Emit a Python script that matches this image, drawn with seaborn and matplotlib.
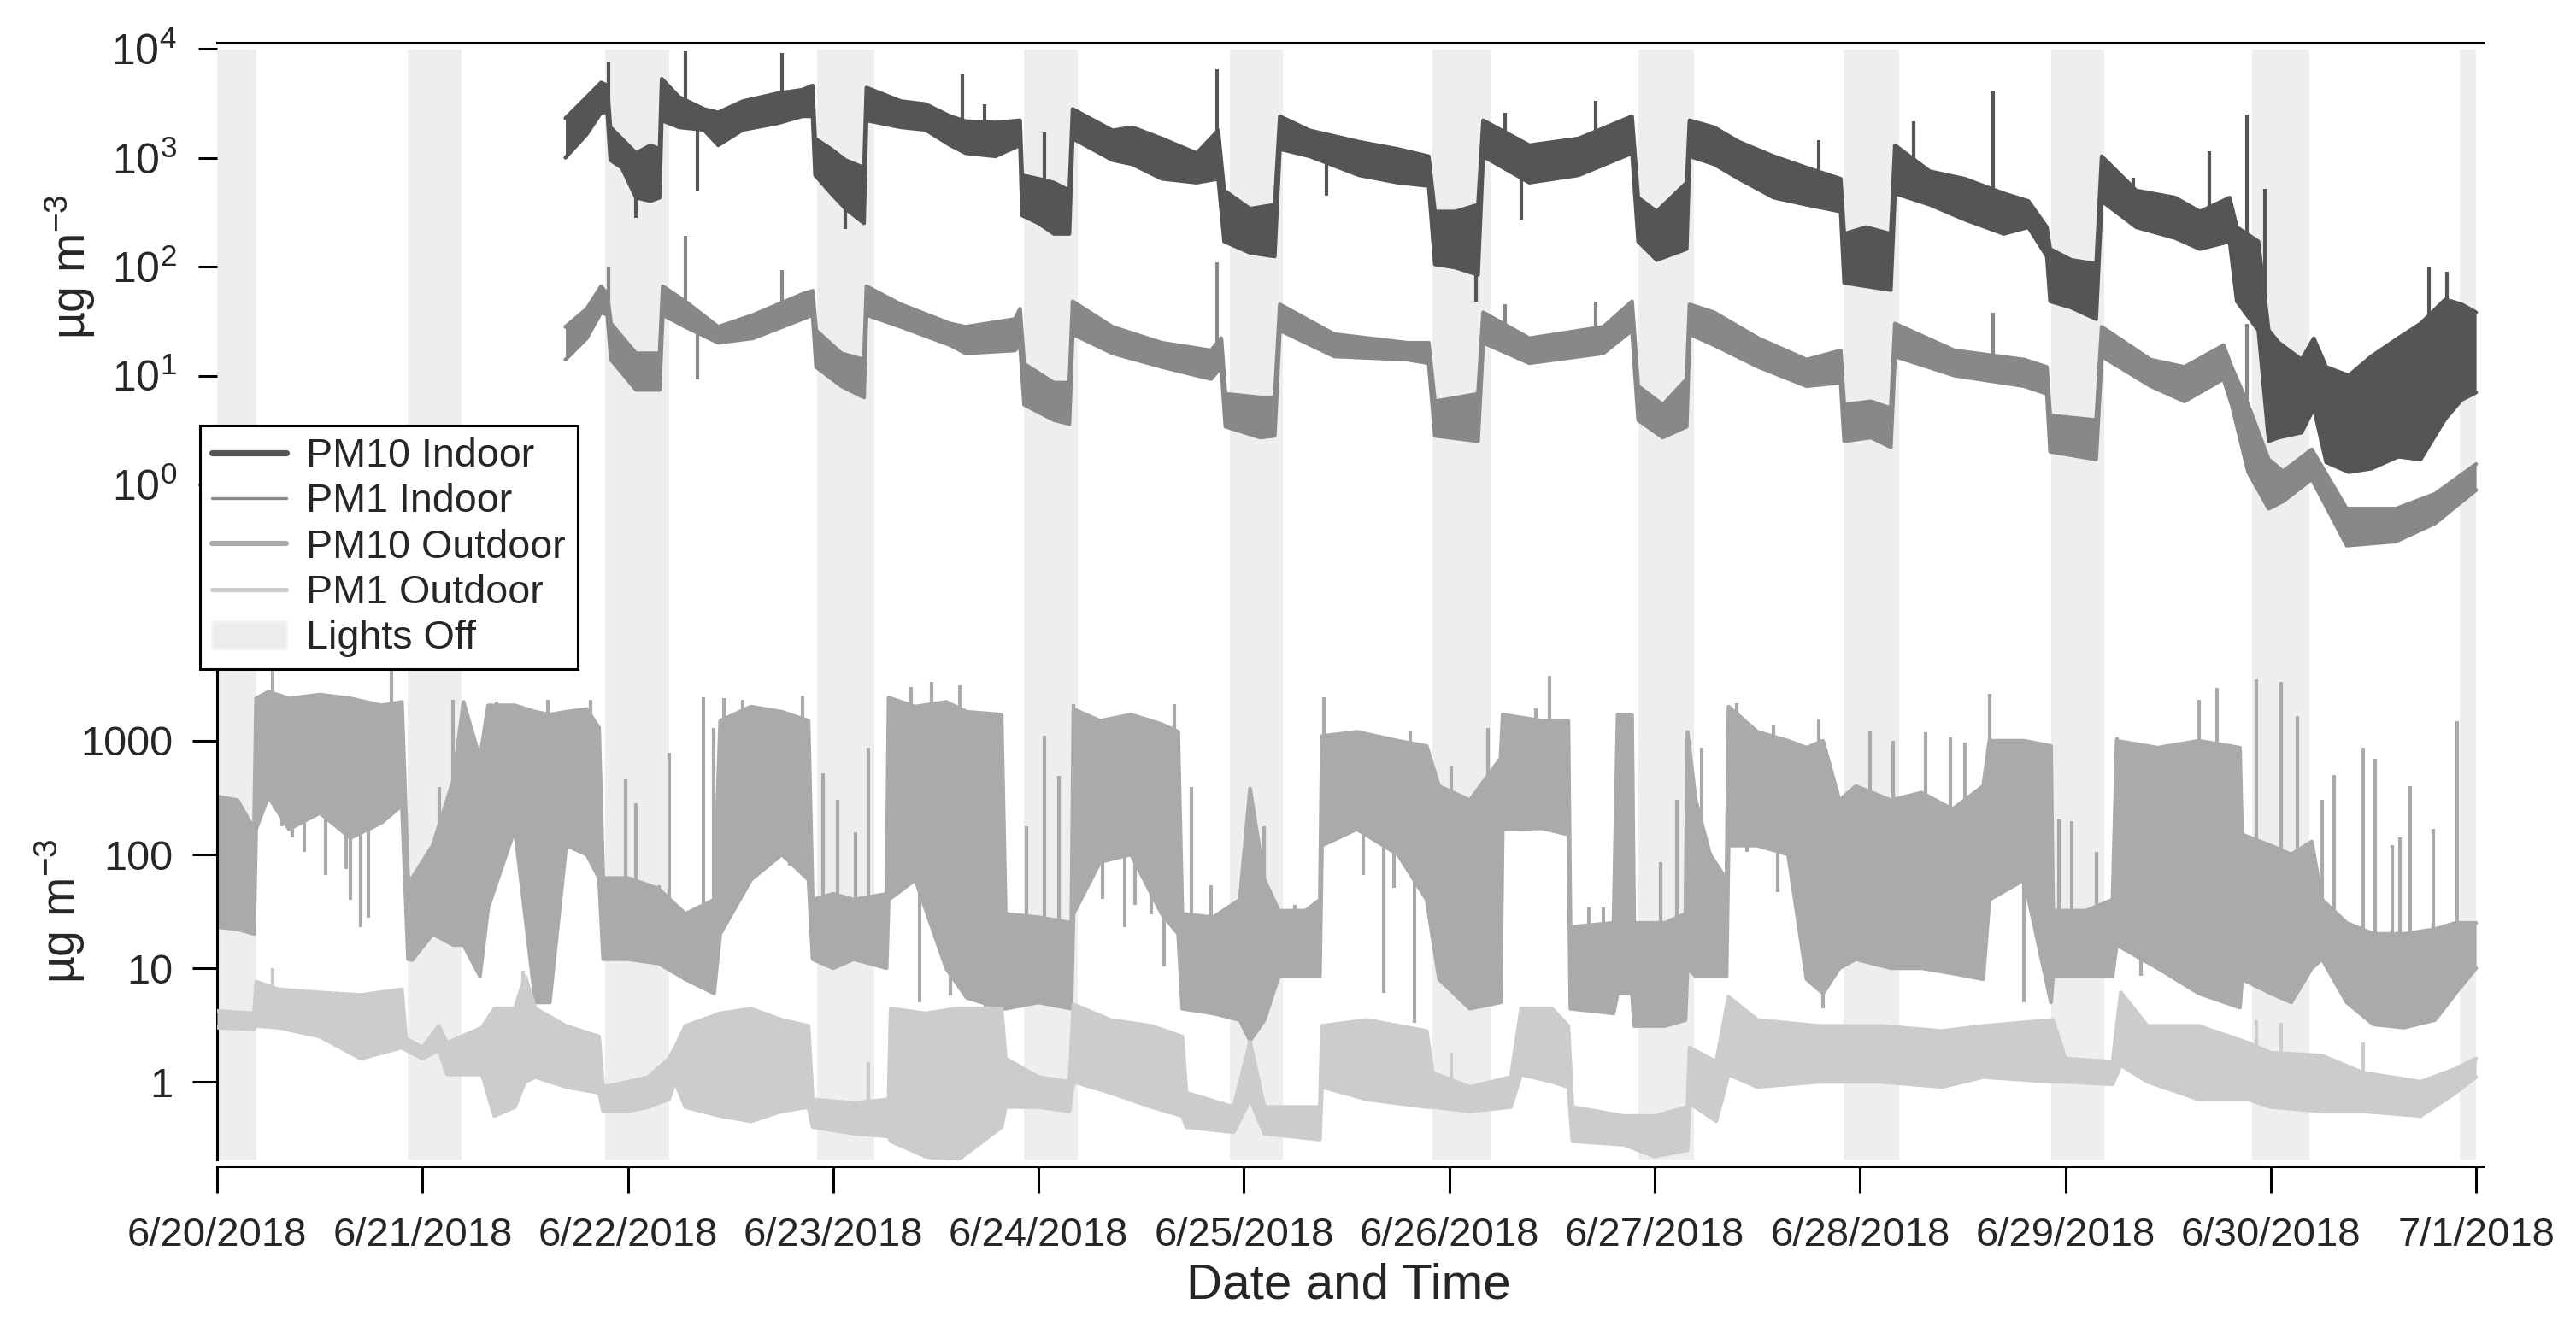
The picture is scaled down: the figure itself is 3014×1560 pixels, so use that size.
import numpy as np
import pandas as pd
import matplotlib
matplotlib.use("Agg")
import matplotlib.pyplot as plt
import seaborn as sns
from matplotlib.lines import Line2D
from matplotlib.patches import Patch
from matplotlib.ticker import NullLocator, FixedLocator

# ---------------- data (days since 6/20/2018 00:00, concentrations in ug m-3) -------------
tick_days = list(range(12))
tick_labels = ["6/20/2018", "6/21/2018", "6/22/2018", "6/23/2018", "6/24/2018", "6/25/2018",
               "6/26/2018", "6/27/2018", "6/28/2018", "6/29/2018", "6/30/2018", "7/1/2018"]

lights_off_start = [0.0, 0.93, 1.89, 2.92, 3.93, 4.93, 5.92, 6.92, 7.92, 8.93, 9.91, 10.92]
lights_off_end = [0.19, 1.19, 2.20, 3.20, 4.19, 5.19, 6.20, 7.19, 8.19, 9.19, 10.19, 11.0]

# PM10 indoor: time, low envelope, high envelope
pm10_in_t = [1.696, 1.80, 1.87, 1.90, 1.915, 1.97, 2.04, 2.11, 2.155, 2.165, 2.25, 2.37, 2.44, 2.56,
             2.73, 2.85, 2.90, 2.912, 2.99, 3.06, 3.15, 3.162, 3.33, 3.45, 3.57, 3.645, 3.79, 3.91,
             3.92, 4.00, 4.075, 4.15, 4.166, 4.36, 4.457, 4.60, 4.77, 4.875, 4.904, 5.03, 5.15,
             5.175, 5.32, 5.56, 5.75, 5.90, 5.93, 6.03, 6.14, 6.165, 6.39, 6.63, 6.89, 6.92, 7.01,
             7.156, 7.17, 7.29, 7.41, 7.58, 7.74, 7.906, 7.923, 8.03, 8.15, 8.17, 8.34, 8.51, 8.70,
             8.82, 8.91, 8.926, 9.03, 9.15, 9.177, 9.345, 9.535, 9.655, 9.80, 9.835, 9.94, 9.99,
             10.04, 10.15, 10.21, 10.27, 10.38, 10.49, 10.62, 10.73, 10.85, 10.93, 11.0]
pm10_in_lo = [1000, 1640, 2600, 2600, 950, 810, 430, 400, 430, 2200, 1900, 1800, 1300, 1800,
              2070, 2400, 2400, 690, 470, 340, 250, 2200, 1900, 1800, 1300, 1100, 1030, 1300,
              295, 250, 200, 200, 1500, 950, 870, 640, 590, 640, 170, 134, 124,
              1200, 1030, 690, 590, 550, 105, 98, 84, 1030, 590, 690, 1100, 170, 115,
              145, 1030, 870, 640, 430, 370, 320, 71, 66, 61, 470, 370, 270, 200,
              230, 124, 48, 42, 33, 400, 230, 183, 145, 170, 48, 26, 2.5,
              2.7, 3.0, 5.0, 1.6, 1.3, 1.4, 1.8, 1.7, 4.0, 6.0, 7.0]
pm10_in_hi = [2300, 3600, 4900, 4600, 1900, 1500, 1100, 1300, 1200, 5300, 3600, 2800, 2600, 3300,
              3900, 4200, 4600, 1500, 1200, 950, 810, 4400, 3300, 3100, 2400, 2160, 2100, 2200,
              690, 640, 590, 500, 2800, 1780, 1900, 1500, 1100, 1780, 500, 340, 370,
              2400, 1780, 1400, 1200, 1030, 320, 320, 370, 2200, 1300, 1500, 2400, 430, 320,
              590, 2200, 1900, 1400, 1030, 810, 640, 200, 230, 200, 1300, 750, 640, 470,
              400, 230, 145, 115, 106, 1030, 500, 430, 320, 430, 230, 170, 26,
              20, 14, 22, 12, 10, 15, 22, 30, 50, 45, 38]
pm10_in_spike_t = [1.906, 2.28, 2.75, 3.63, 4.87, 6.27, 6.715, 8.26, 8.65, 9.70, 9.886, 10.77, 10.86,
                   2.34, 2.04, 3.06, 5.40, 6.35, 6.13, 3.736, 4.03, 7.80, 9.33, 9.97]
pm10_in_spike_v = [7600, 9500, 9100, 5800, 6500, 2600, 3300, 2150, 4100, 1150, 2500, 100, 90,
                   490, 280, 220, 450, 270, 48, 3100, 1700, 1450, 660, 520]

# PM1 indoor
pm1_in_t = [1.696, 1.80, 1.87, 1.90, 1.918, 2.04, 2.155, 2.17, 2.28, 2.44, 2.61, 2.85, 2.90, 2.917,
            3.04, 3.15, 3.162, 3.33, 3.57, 3.645, 3.885, 3.91, 3.93, 4.075, 4.15, 4.166, 4.36,
            4.60, 4.84, 4.89, 4.91, 5.08, 5.15, 5.175, 5.44, 5.795, 5.90, 5.93, 6.14, 6.165,
            6.39, 6.75, 6.89, 6.92, 7.04, 7.156, 7.17, 7.29, 7.505, 7.74, 7.906, 7.923, 8.054,
            8.15, 8.17, 8.46, 8.80, 8.91, 8.926, 9.15, 9.177, 9.415, 9.58, 9.77, 9.81, 9.89,
            9.99, 10.06, 10.20, 10.37, 10.61, 10.80, 11.0]
pm1_in_lo = [14, 22, 38, 36, 14, 7.4, 7.4, 36, 28, 20, 22, 33, 36, 12,
             8, 6.3, 36, 28, 19, 16, 17, 19, 5.4, 3.9, 3.6, 24, 16,
             12, 9.3, 12, 3.4, 2.7, 2.8, 26, 15, 14, 13, 2.8, 2.5, 20,
             13, 16, 26, 3.9, 2.7, 3.4, 24, 19, 12, 8, 8.6, 2.5, 2.7,
             2.2, 15, 10, 8, 6.8, 2.0, 1.7, 15, 8, 5.8, 9.3, 5.4, 1.3,
             0.60, 0.70, 1.12, 0.275, 0.30, 0.44, 0.89]
pm1_in_hi = [28, 41, 66, 56, 30, 16, 16, 66, 48, 28, 36, 56, 60, 26,
             16, 14, 66, 45, 30, 28, 33, 41, 12.8, 8.6, 8.6, 48, 28,
             20, 17, 22, 6.8, 6.3, 6.3, 45, 24, 20, 20, 5.8, 6.8, 38,
             22, 28, 48, 8, 5.4, 9.3, 45, 38, 22, 14, 17, 5.4, 5.8,
             5.0, 30, 17, 14, 12, 4.3, 3.9, 28, 14, 12, 19, 12, 5.4,
             1.7, 1.32, 2.1, 0.60, 0.60, 0.82, 1.54]
pm1_in_spike_t = [1.906, 2.28, 2.75, 4.87, 2.34, 6.27, 6.715, 8.65, 9.886]
pm1_in_spike_v = [100, 190, 93, 110, 9.3, 45, 48, 38, 30]

# PM10 outdoor
pm10_out_t = [0.0, 0.10, 0.18, 0.19, 0.25, 0.35, 0.50, 0.65, 0.80, 0.90, 0.93, 0.95, 1.05, 1.15,
              1.20, 1.28, 1.32, 1.45, 1.55, 1.62, 1.70, 1.80, 1.86, 1.88, 2.00, 2.15, 2.28, 2.42,
              2.45, 2.60, 2.75, 2.88, 2.90, 3.00, 3.10, 3.26, 3.27, 3.40, 3.55, 3.65, 3.82, 3.84,
              4.00, 4.16, 4.17, 4.30, 4.45, 4.60, 4.68, 4.70, 4.85, 4.98, 5.03, 5.10, 5.17, 5.30,
              5.37, 5.38, 5.55, 5.75, 5.89, 5.95, 6.10, 6.25, 6.26, 6.45, 6.58, 6.59, 6.80, 6.82,
              6.89, 6.90, 7.05, 7.15, 7.16, 7.20, 7.27, 7.35, 7.36, 7.50, 7.65, 7.74, 7.82, 7.90,
              7.98, 8.15, 8.30, 8.45, 8.60, 8.63, 8.80, 8.93, 8.94, 9.10, 9.23, 9.25, 9.45, 9.65,
              9.85, 9.86, 10.0, 10.1, 10.2, 10.25, 10.37, 10.5, 10.65, 10.8, 10.9, 11.0]
pm10_out_lo = [23, 22, 20, 167, 324, 167, 232, 140, 190, 270, 12, 11.8, 20, 16,
               16, 8.5, 34, 167, 5, 5, 120, 100, 62, 12, 12, 11, 8, 6,
               20, 60, 100, 60, 12, 10, 12, 10, 40, 60, 10, 5.5, 4.4, 4.4,
               5, 4.4, 30, 86, 100, 30, 20, 4.4, 4, 3.5, 2.3, 3.5, 8.5, 8.5,
               8.5, 120, 167, 100, 40, 8, 4.4, 5, 167, 170, 150, 4.4, 4, 6,
               6, 3.1, 3.1, 3.5, 10, 8.5, 8.5, 8.5, 120, 120, 100, 8, 6, 10,
               12, 10, 10, 9, 8, 40, 60, 5, 8.5, 8.5, 8.5, 16, 10, 6,
               4.5, 8, 6, 5, 10, 12, 5, 3.2, 3.0, 3.5, 6, 10]
pm10_out_hi = [324, 300, 167, 2360, 2700, 2360, 2550, 2360, 2050, 2200, 62, 62, 120, 450,
               2200, 700, 2050, 2050, 1800, 1700, 1800, 1900, 1300, 62, 62, 50, 30, 40,
               1500, 2000, 1800, 1500, 40, 45, 40, 45, 2400, 2000, 2200, 1800, 1700, 30,
               28, 25, 1900, 1500, 1700, 1400, 1200, 30, 28, 40, 380, 60, 32, 32,
               40, 1100, 1200, 1000, 900, 400, 300, 700, 1700, 1500, 1500, 23, 25, 1700,
               1700, 25, 25, 30, 1200, 300, 100, 60, 2000, 1200, 1000, 870, 1000, 300,
               400, 300, 350, 250, 400, 1000, 1000, 900, 32, 32, 40, 1000, 870, 1000,
               870, 150, 120, 100, 130, 40, 25, 20, 20, 22, 25, 25]
pm10_out_spike_t = [0.27, 0.85, 1.15, 2.37, 2.85, 3.48, 0.70, 0.65, 3.17, 2.20, 2.95, 1.99,
                    5.39, 6.49, 4.66, 4.17, 4.03, 7.03, 4.10,
                    9.93, 10.05, 8.63, 9.74, 10.91, 10.45, 10.31, 10.68,
                    0.318, 0.366, 0.425, 0.53, 0.628, 0.736, 0.767, 0.82, 1.08, 1.11,
                    1.36, 1.61, 1.82, 2.04, 2.15, 2.42, 2.47, 2.56, 2.59, 2.67, 2.79, 2.83,
                    3.02, 3.11, 3.38, 3.615, 3.42, 3.57, 3.74, 3.94,
                    4.22, 4.46, 4.31, 4.42, 4.47, 4.55, 4.61, 4.745, 4.84, 4.935, 5.10, 5.25, 5.32,
                    5.605, 5.81, 5.58, 5.68, 5.73, 6.01, 6.19, 5.83, 6.42, 6.68, 6.75, 7.11,
                    7.17, 7.23, 7.40, 7.58, 7.80, 7.60, 7.45, 8.05, 8.16, 8.32, 8.44, 8.51, 7.82, 8.13,
                    8.70, 8.80, 8.97, 9.03, 9.15, 9.25, 9.65, 9.37, 9.50, 10.13, 9.92,
                    10.25, 10.51, 10.59, 10.63, 10.79]
pm10_out_spike_v = [4300, 4300, 2300, 2400, 2500, 3300, 23, 40, 875, 780, 520, 460,
                    2400, 3700, 2100, 2100, 1100, 86, 490,
                    3500, 3300, 2600, 2900, 1500, 870, 500, 400,
                    178, 141, 105, 66, 75, 28, 346, 232, 395, 204,
                    2210, 2290, 2290, 284, 54, 1300, 2360, 2290, 265, 156, 80, 324,
                    303, 156, 2980, 3080, 5.0, 5.7, 4.4, 178,
                    1220, 1590, 41, 23, 36, 30, 10.3, 395, 54, 28, 178, 36, 34,
                    1140, 1220, 66, 6.1, 51, 590, 1300, 3.3, 1940, 34, 34, 303,
                    1000, 875, 2140, 1390, 1530, 47, 105, 1220, 1000, 1180, 1070, 970, 4.4, 12.6,
                    875, 5.0, 204, 197, 105, 1070, 2290, 8.5, 8.5, 1640, 6.9,
                    303, 690, 120, 141, 167]

# PM1 outdoor
pm1_out_t = [0.0, 0.18, 0.19, 0.30, 0.50, 0.70, 0.90, 0.92, 1.00, 1.08, 1.12, 1.29, 1.35, 1.45,
             1.50, 1.55, 1.70, 1.86, 1.88, 2.00, 2.10, 2.20, 2.23, 2.28, 2.45, 2.60, 2.75, 2.88,
             2.90, 3.10, 3.27, 3.28, 3.45, 3.60, 3.82, 3.84, 4.00, 4.15, 4.17, 4.35, 4.55, 4.70,
             4.72, 4.95, 5.03, 5.10, 5.37, 5.38, 5.60, 5.89, 5.92, 6.10, 6.30, 6.35, 6.50, 6.58,
             6.60, 6.85, 7.00, 7.16, 7.17, 7.30, 7.36, 7.50, 7.80, 8.10, 8.40, 8.60, 8.94, 9.00,
             9.23, 9.27, 9.40, 9.65, 9.89, 10.00, 10.25, 10.45, 10.73, 10.90, 11.0]
pm1_out_lo = [3.0, 2.9, 3.1, 3.0, 2.5, 1.6, 2.0, 1.9, 1.6, 1.9, 1.16, 1.16, 0.5, 0.6,
              1.0, 1.1, 0.9, 0.8, 0.55, 0.55, 0.6, 0.7, 1.0, 0.6, 0.5, 0.45, 0.55, 0.6,
              0.4, 0.35, 0.33, 0.3, 0.22, 0.2, 0.4, 0.6, 0.6, 0.55, 1.0, 0.8, 0.6, 0.5,
              0.4, 0.36, 0.7, 0.35, 0.31, 0.9, 0.7, 0.6, 0.6, 0.55, 0.6, 1.16, 1.0, 0.9,
              0.3, 0.28, 0.22, 0.25, 0.65, 0.45, 1.16, 0.9, 1.0, 1.0, 0.9, 1.1, 1.0, 1.0,
              0.95, 1.4, 1.0, 0.7, 0.7, 0.6, 0.55, 0.55, 0.5, 0.8, 1.1]
pm1_out_hi = [4.2, 4.0, 7.6, 6.5, 6.1, 5.8, 6.5, 2.4, 2.0, 3.1, 2.2, 3.0, 4.4, 4.4,
              8.5, 4.4, 3.1, 2.5, 0.9, 1.0, 1.1, 1.6, 2.0, 3.1, 4.0, 4.4, 3.5, 3.1,
              0.7, 0.65, 0.7, 4.4, 4.0, 4.4, 4.4, 1.6, 1.1, 1.0, 4.8, 3.5, 3.1, 2.5,
              0.8, 0.6, 2.25, 0.6, 0.6, 3.1, 3.5, 2.8, 1.2, 0.9, 1.1, 4.4, 4.4, 3.1,
              0.6, 0.5, 0.5, 0.6, 2.0, 1.5, 5.6, 3.5, 3.1, 3.1, 2.8, 3.1, 3.5, 1.6,
              1.5, 6.1, 3.1, 3.1, 2.2, 1.8, 1.7, 1.2, 1.0, 1.3, 1.6]
pm1_out_spike_t = [0.27, 1.49, 2.20, 3.17, 6.01, 9.93, 10.05, 10.45]
pm1_out_spike_v = [10, 9.5, 1.6, 1.5, 1.8, 3.5, 3.3, 2.2]

series_names = ["PM10 Indoor", "PM1 Indoor", "PM10 Outdoor", "PM1 Outdoor", "Lights Off"]
series_colors = ["#555555", "#888888", "#aaaaaa", "#cccccc", "#eeeeee"]

# ---------------- style ----------------
sns.set_theme(style="white")
plt.rcParams["font.family"] = ["Liberation Sans", "DejaVu Sans"]
plt.rcParams["mathtext.fontset"] = "custom"
plt.rcParams["mathtext.rm"] = "Liberation Sans"
plt.rcParams["mathtext.it"] = "Liberation Sans:italic"
plt.rcParams["mathtext.bf"] = "Liberation Sans:bold"
plt.rcParams["mathtext.default"] = "regular"

START = pd.Timestamp("2018-06-20")


def to_time(days):
    return START + pd.to_timedelta(np.asarray(days, dtype=float), unit="D")


W, H = 3014, 1560
fig = plt.figure(figsize=(W / 200, H / 200), dpi=200)
fig.patch.set_facecolor("white")

L, R = 254, 2906
ax_top = fig.add_axes([L / W, 1 - 1357 / H, (R - L) / W, (1357 - 50) / H])
ax_bot = fig.add_axes([L / W, 1 - 1357 / H, (R - L) / W, (1357 - 782) / H])
ax_bot.patch.set_visible(False)

for ax in (ax_top, ax_bot):
    ax.set_yscale("log")
    ax.set_xlim(START, START + pd.Timedelta(days=11.037))

ax_top.set_ylim(10 ** -6.196, 10 ** 4.055)
ax_bot.set_ylim(10 ** -0.684, 10 ** 3.639)

# lights-off shading
for s, e in zip(lights_off_start, lights_off_end):
    ax_top.axvspan(to_time(s), to_time(e), ymin=0, ymax=0.994, color=series_colors[4], lw=0, zorder=0)


def band(ax, t, lo, hi, color, spike_t, spike_v, edge_lw=1.6, z=2):
    t = np.asarray(t, float)
    lo = np.asarray(lo, float)
    hi = np.asarray(hi, float)
    df = pd.DataFrame({"time": np.concatenate([to_time(t), to_time(t)]),
                       "value": np.concatenate([lo, hi])})
    sns.lineplot(data=df, x="time", y="value", estimator="mean", errorbar=("pi", 100),
                 color=color, linewidth=0, err_kws={"alpha": 1, "linewidth": 0, "zorder": z},
                 ax=ax, legend=False, zorder=z)
    sns.lineplot(x=to_time(t), y=lo, color=color, linewidth=edge_lw, ax=ax, zorder=z)
    sns.lineplot(x=to_time(t), y=hi, color=color, linewidth=edge_lw, ax=ax, zorder=z)
    center = 10 ** np.interp(spike_t, t, (np.log10(lo) + np.log10(hi)) / 2)
    ax.vlines(to_time(spike_t), center, spike_v, colors=color, linewidth=1.5, zorder=z)


band(ax_top, pm10_in_t, pm10_in_lo, pm10_in_hi, series_colors[0], pm10_in_spike_t, pm10_in_spike_v, z=2)
band(ax_top, pm1_in_t, pm1_in_lo, pm1_in_hi, series_colors[1], pm1_in_spike_t, pm1_in_spike_v, z=3)
band(ax_bot, pm10_out_t, pm10_out_lo, pm10_out_hi, series_colors[2], pm10_out_spike_t, pm10_out_spike_v, z=2)
band(ax_bot, pm1_out_t, pm1_out_lo, pm1_out_hi, series_colors[3], pm1_out_spike_t, pm1_out_spike_v, z=3)

for ax in (ax_top, ax_bot):
    ax.set_xlabel("")
    ax.set_ylabel("")
    ax.yaxis.set_minor_locator(NullLocator())
    ax.xaxis.set_minor_locator(NullLocator())

# top axes styling
for side in ("left", "right", "bottom"):
    ax_top.spines[side].set_visible(False)
ax_top.spines["top"].set_visible(True)
ax_top.spines["top"].set_linewidth(1.1)
ax_top.spines["top"].set_color("black")
ax_top.yaxis.set_major_locator(FixedLocator([1, 10, 100, 1000, 10000]))
ax_top.set_yticklabels([r"$10^{0}$", r"$10^{1}$", r"$10^{2}$", r"$10^{3}$", r"$10^{4}$"])
ax_top.tick_params(axis="y", which="major", direction="out", length=8, width=1.1, pad=9,
                   labelsize=18, color="black", left=True, labelleft=True)
ax_top.tick_params(axis="x", bottom=False, labelbottom=False, top=False)
ax_top.grid(False)

# bottom axes styling
ax_bot.spines["top"].set_visible(False)
ax_bot.spines["right"].set_visible(False)
for side in ("left", "bottom"):
    ax_bot.spines[side].set_visible(True)
    ax_bot.spines[side].set_linewidth(1.1)
    ax_bot.spines[side].set_color("black")
ax_bot.spines["bottom"].set_position(("outward", 3))
ax_bot.yaxis.set_major_locator(FixedLocator([1, 10, 100, 1000]))
ax_bot.set_yticklabels(["1", "10", "100", "1000"])
ax_bot.set_xticks(to_time(tick_days))
ax_bot.set_xticklabels(tick_labels)
ax_bot.tick_params(axis="y", which="major", direction="out", length=10.5, width=1.1, pad=8,
                   labelsize=17.5, color="black", left=True)
ax_bot.tick_params(axis="x", which="major", direction="out", length=11, width=1.1, pad=10,
                   labelsize=17, color="black", bottom=True)
ax_bot.grid(False)

# axis titles
fig.text(82 / W, 1 - 312 / H, r"µg m$^{-3}$", rotation=90, ha="center", va="center", fontsize=20)
fig.text(70 / W, 1 - 1066 / H, r"µg m$^{-3}$", rotation=90, ha="center", va="center", fontsize=20)
fig.text(1578 / W, 1 - 1505 / H, "Date and Time", ha="center", va="center", fontsize=21)

# legend
handles = [
    Line2D([], [], color=series_colors[0], lw=2.6),
    Line2D([], [], color=series_colors[1], lw=1.2),
    Line2D([], [], color=series_colors[2], lw=2.2),
    Line2D([], [], color=series_colors[3], lw=1.8),
    Patch(facecolor="#ececec", edgecolor="#f4f4f4"),
]
leg = fig.legend(handles, series_names, loc="upper left", bbox_to_anchor=(234 / W, 1 - 498 / H),
                 frameon=True, fancybox=False, edgecolor="black", framealpha=1, borderaxespad=0,
                 borderpad=0.3, handlelength=1.86, handletextpad=0.5, labelspacing=0.2,
                 fontsize=16.8)
leg.get_frame().set_linewidth(1.1)

fig.savefig("out.png", dpi=200, facecolor="white")
